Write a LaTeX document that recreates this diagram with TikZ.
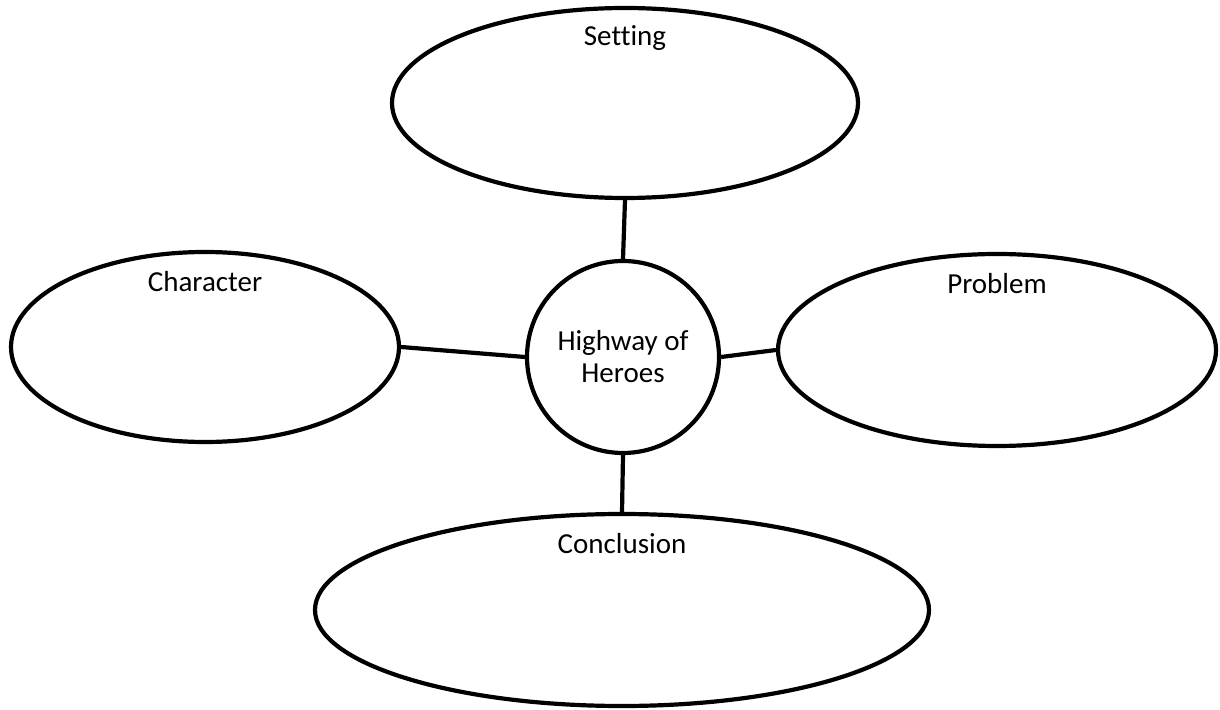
\documentclass[tikz,border=0pt]{standalone}
\usepackage{fontspec}
\setmainfont[Ligatures=NoCommon]{Carlito}
\usetikzlibrary{shapes.geometric}

\tikzset{
  bubble/.style={draw=black, ellipse, line width=2.1pt, inner sep=0pt},
  hub/.style={draw=black, circle, line width=2.1pt, inner sep=0pt, minimum size=96pt, align=center, font=\fontsize{14.5}{16}\selectfont},
  tag/.style={inner sep=0pt, font=\fontsize{14.5}{16}\selectfont},
  link/.style={black, line width=2.1pt}
}

\begin{document}
\begin{tikzpicture}[x=0.5pt, y=-0.5pt] %story map
            \useasboundingbox (0,0) rectangle (1220,710);

            \node[hub] (hub) at (623,357) {Highway of\\Heroes};

            \node[bubble, minimum width=233pt, minimum height=95pt] (setting) at (625,103) {};
            \node[bubble, minimum width=194pt, minimum height=95pt] (character) at (205,347) {};
            \node[bubble, minimum width=219pt, minimum height=96pt] (problem) at (997,350) {};
            \node[bubble, minimum width=307pt, minimum height=96pt] (conclusion) at (622,610) {};

            \node[tag] (settinglbl) at ([yshift=-16pt]setting.north) {Setting};
            \node[tag] (characterlbl) at ([yshift=-16pt]character.north) {Character};
            \node[tag] (problemlbl) at ([yshift=-16pt]problem.north) {Problem};
            \node[tag] (conclusionlbl) at ([yshift=-16pt]conclusion.north) {Conclusion};

            \draw[link] (setting.south) -- (hub.north);
            \draw[link] (character.east) -- (hub.west);
            \draw[link] (hub.east) -- (problem.west);
            \draw[link] (hub.south) -- (conclusion.north);
        \end{tikzpicture}
\end{document}
